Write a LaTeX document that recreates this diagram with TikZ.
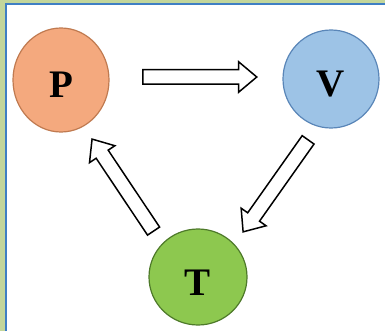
\documentclass[tikz,border=0pt]{standalone}
\usepackage{fontspec}
\setmainfont{Liberation Serif}
\usetikzlibrary{shapes.geometric,shapes.arrows,calc}
\definecolor{frameg}{HTML}{C3D69B}
\definecolor{frameb}{HTML}{3F7FC4}
\definecolor{pfill}{HTML}{F4A97E}
\definecolor{pline}{HTML}{C07A50}
\definecolor{vfill}{HTML}{9DC3E6}
\definecolor{vline}{HTML}{5A86B8}
\definecolor{tfill}{HTML}{8DC84F}
\definecolor{tline}{HTML}{4E7A2A}
\newcommand\blockarr[2]{\path let \p1=($(#2)-(#1)$), \n1={veclen(\x1,\y1)} in (#1) -- node[blockarrow, pos=0.46, sloped, allow upside down, minimum height=\n1] {} (#2);}
\begin{document}
\begin{tikzpicture}[x=1pt,y=-1pt,
  blob/.style={ellipse, line width=1.2pt, inner sep=0pt, text height=36pt, text depth=0pt,
    font=\fontsize{39}{39}\selectfont\bfseries},
  blockarrow/.style={single arrow, draw=black, fill=white, line width=1.5pt, inner xsep=0pt,
    inner ysep=6.5pt, minimum width=0pt, single arrow head extend=8pt, single arrow tip angle=80}]
\useasboundingbox (0,0) rectangle (385,331);
\fill[white] (0,0) rectangle (385,331);
\fill[frameg] (0,0) rectangle (5,331);
\fill[frameg] (0,0) rectangle (385,3);
\fill[frameb] (5,3) rectangle (7,331);
\fill[frameb] (5,3) rectangle (385,5);

\node[blob, fill=pfill, draw=pline, minimum width=96pt, minimum height=104pt] (P) at (61,80) {P};
\node[blob, fill=vfill, draw=vline, minimum width=96pt, minimum height=98pt] (V) at (331,79) {V};
\node[blob, fill=tfill, draw=tline, minimum width=98pt, minimum height=96pt] (T) at (198,277) {T};

\coordinate (pv1) at ($(P)+(82,-3)$);
\coordinate (pv2) at ($(V)+(-74,-2)$);
\coordinate (vt1) at ($(V)+(-23,61)$);
\coordinate (vt2) at ($(T)+(45,-45)$);
\coordinate (tp1) at ($(T)+(-44.5,-46)$);
\coordinate (tp2) at ($(P)+(31,59)$);

\blockarr{pv1}{pv2}
\blockarr{vt1}{vt2}
\blockarr{tp1}{tp2}
\end{tikzpicture}
\end{document}
